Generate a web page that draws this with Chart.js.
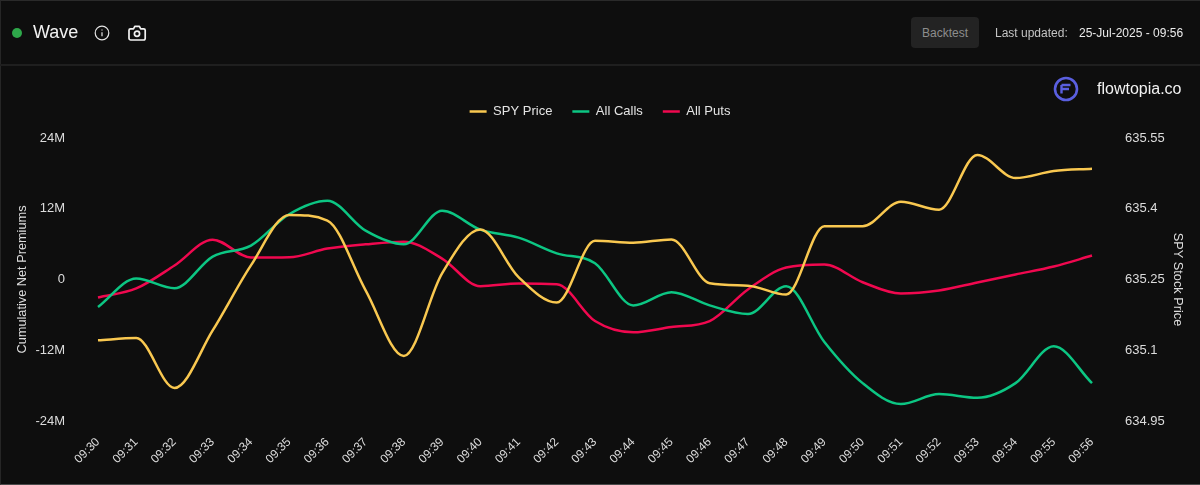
<!DOCTYPE html>
<html><head><meta charset="utf-8">
<script src="https://cdn.jsdelivr.net/npm/chart.js@4"></script>
<style>
html,body{margin:0;padding:0;background:#0e0e0e;width:1200px;height:485px;overflow:hidden;font-family:"Liberation Sans",Arial,sans-serif}
#frame{position:absolute;left:0;top:0;width:1200px;height:485px;box-sizing:border-box;border-top:1px solid #2a2a2a;border-left:1px solid #262626;border-bottom:1px solid #4a4a4a}
#hr{position:absolute;left:0;top:64px;width:1200px;height:2px;background:#1f1f1f}
.t{position:absolute;white-space:nowrap}
#dot{position:absolute;left:12px;top:28px;width:10px;height:10px;border-radius:50%;background:#2ea84a}
#btn{position:absolute;left:911px;top:17px;width:68px;height:31px;border-radius:4px;background:#232323;color:#8d8d8d;font-size:12px;line-height:32px;text-align:center}
svg{position:absolute}
canvas{position:absolute;left:0;top:0}
</style></head><body>
<canvas id="c" width="1200" height="485" style="width:1200px;height:485px"></canvas>
<div id="frame"></div><div id="hr"></div>
<div id="dot"></div>
<div class="t" style="left:33px;top:22px;font-size:18px;color:#f2f2f2">Wave</div>
<svg style="left:94px;top:25px" width="16" height="16" viewBox="0 0 16 16" fill="none" stroke="#e6e6e6" stroke-width="1.2"><circle cx="8" cy="8" r="6.8"/><path d="M8 7.2v4M8 4.4v1.2"/></svg>
<svg style="left:127px;top:23px" width="20" height="20" viewBox="0 0 20 20" fill="none" stroke="#f2f2f2" stroke-width="1.7" stroke-linejoin="round"><path d="M3.5 5.8h3l1.3-2.4h4.6l1.3 2.4h3a1.5 1.5 0 0 1 1.5 1.5v8a1.7 1.7 0 0 1-1.7 1.7H3.7A1.7 1.7 0 0 1 2 15.3v-8a1.5 1.5 0 0 1 1.5-1.5z"/><circle cx="10" cy="10.8" r="2.6"/></svg>
<div id="btn">Backtest</div>
<div class="t" style="left:995px;top:26px;font-size:12px;color:#c4c4c4">Last updated:</div>
<div class="t" style="left:1079px;top:26px;font-size:12px;color:#ececec">25-Jul-2025 - 09:56</div>
<svg style="left:1053px;top:76px" width="26" height="26" viewBox="0 0 26 26" fill="none"><circle cx="13" cy="13" r="11" stroke="#5a5fe0" stroke-width="2.6"/><path d="M8.5 9h9M8.5 13h7.5M8.5 9v8.5" stroke="#5a5fe0" stroke-width="2.4"/></svg>
<div class="t" style="left:1097px;top:80px;font-size:16px;color:#f2f2f2">flowtopia.co</div>
<script>
const labels=["09:30","09:31","09:32","09:33","09:34","09:35","09:36","09:37","09:38","09:39","09:40","09:41","09:42","09:43","09:44","09:45","09:46","09:47","09:48","09:49","09:50","09:51","09:52","09:53","09:54","09:55","09:56"];
const spyPrice=[635.121,635.126,635.02,635.142,635.28,635.387,635.375,635.227,635.088,635.263,635.356,635.255,635.201,635.332,635.328,635.335,635.242,635.237,635.218,635.363,635.363,635.415,635.398,635.514,635.465,635.48,635.485];
const allCalls=[-4.68,0.17,-1.47,3.89,5.75,11.07,13.35,8.28,5.97,11.66,8.45,7.1,4.44,2.75,-4.39,-2.15,-4.39,-5.86,-1.13,-10.6,-17.58,-21.13,-19.44,-20.06,-17.58,-11.32,-17.58];
const allPuts=[-3.04,-1.52,2.37,6.76,3.72,3.77,5.24,5.97,6.42,3.55,-1.13,-0.68,-0.79,-7.05,-8.96,-8.06,-7.05,-1.69,2.03,2.54,-0.46,-2.37,-1.86,-0.51,0.85,2.2,4.06];
const leftTicks=[-24,-12,0,12,24];
const rightTicks=[634.95,635.1,635.25,635.4,635.55];
const tickColor='#dcdcdc',family='"Liberation Sans",Arial,sans-serif',font={family,size:13},xFont={family,size:12},titleFont={family,size:12.75};
const ds=(label,data,color,axis)=>({label,data,borderColor:color,backgroundColor:color,yAxisID:axis,borderWidth:2.5,pointRadius:0,cubicInterpolationMode:'monotone',fill:false});
const legendGap={id:'legendGap',beforeLayout(chart){const l=chart.legend;if(l&&!l._gap){l._gap=true;const f=l.fit;l.fit=function(){f.call(this);this.height+=10;};}}};
new Chart(document.getElementById('c'),{type:'line',
 data:{labels,datasets:[ds('SPY Price',spyPrice,'#f9c850','yR'),ds('All Calls',allCalls,'#0cc683','yL'),ds('All Puts',allPuts,'#f0084f','yL')]},
 plugins:[legendGap],
 options:{responsive:false,animation:false,devicePixelRatio:1,
  layout:{padding:{top:85,left:0,right:0,bottom:0}},
  plugins:{tooltip:{enabled:false},legend:{position:'top',labels:{color:'#e4e4e4',font,boxWidth:17,boxHeight:0,padding:20}}},
  scales:{
   x:{grid:{display:false},border:{display:false},offset:false,
      ticks:{color:tickColor,font:xFont,maxRotation:45,minRotation:45,autoSkip:false,padding:6},
      afterFit(s){s.height=64}},
   yL:{position:'left',min:-24,max:24,grid:{display:false,drawTicks:false},border:{display:false},
      afterBuildTicks(s){s.ticks=leftTicks.map(value=>({value}))},
      ticks:{color:tickColor,font,padding:33,callback:v=>v===0?'0':v+'M'},
      title:{display:true,text:'Cumulative Net Premiums',color:tickColor,font:titleFont,padding:15},
      afterFit(s){s.width=98}},
   yR:{position:'right',min:634.95,max:635.55,grid:{display:false,drawTicks:false},border:{display:false},
      afterBuildTicks(s){s.ticks=rightTicks.map(value=>({value}))},
      ticks:{color:tickColor,font,padding:33,callback:v=>String(v)},
      title:{display:true,text:'SPY Stock Price',color:tickColor,font:titleFont,padding:15},
      afterFit(s){s.width=108}}
  }}});
</script>
</body></html>
